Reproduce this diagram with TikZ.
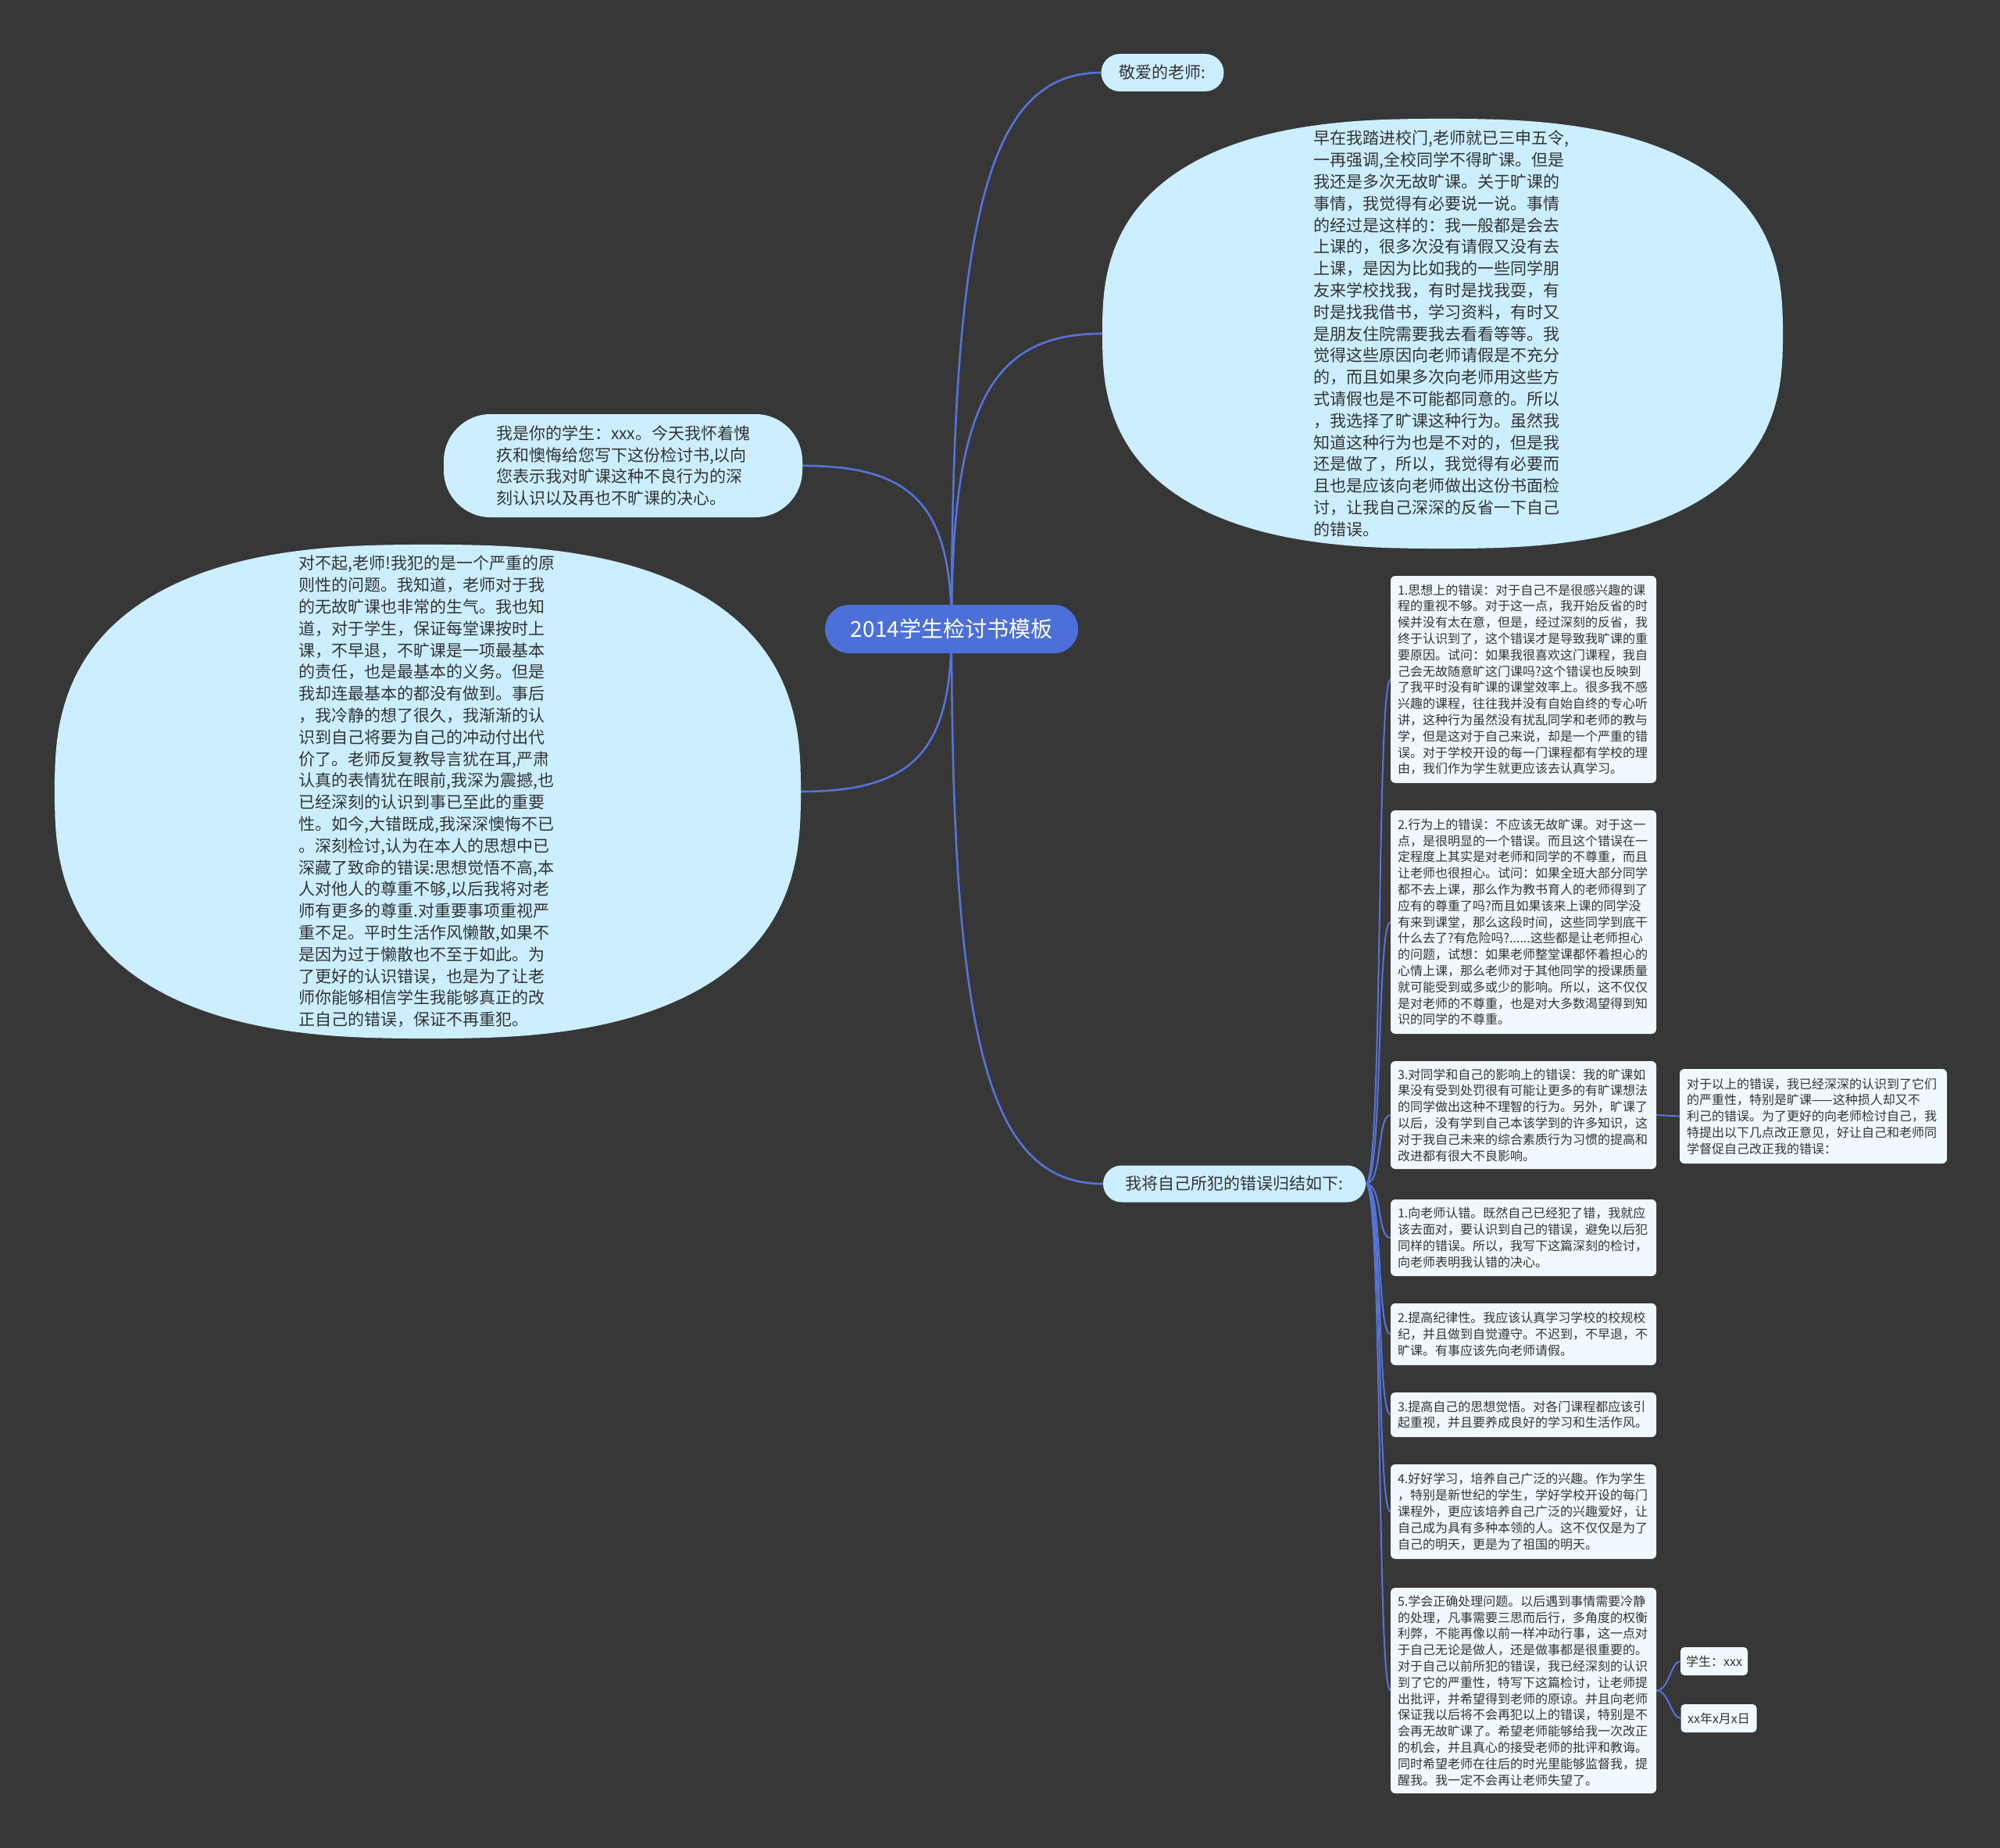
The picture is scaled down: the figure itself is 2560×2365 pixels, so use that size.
\documentclass[tikz,border=0pt]{standalone}
\usepackage{fontspec}
\setmainfont{Noto Sans CJK SC}
\usetikzlibrary{shapes.geometric,backgrounds}
\definecolor{bgc}{HTML}{383737}
\definecolor{ellc}{HTML}{CCEFFF}
\definecolor{boxc}{HTML}{F0FAFE}
\definecolor{rootc}{HTML}{4D6FD8}
\definecolor{linec}{HTML}{5673D9}
\definecolor{txtc}{HTML}{333333}
\tikzset{
  mainline/.style={draw=linec, line width=2.6pt},
  subline/.style={draw=linec, line width=2pt},
  ellshape/.style={ellipse, inner sep=0pt},
  elltext/.style={text=txtc, font=\fontsize{21}{27.8}\selectfont, align=left, text width=330pt, inner sep=0pt},
  pill/.style={fill=ellc, text=txtc, font=\fontsize{21}{24}\selectfont, inner sep=0pt},
  rootn/.style={fill=rootc, text=white, font=\fontsize{28}{32}\selectfont, rounded corners=31pt, minimum width=324pt, minimum height=62pt, inner sep=0pt},
  card/.style={fill=boxc, rounded corners=6pt, text=txtc, font=\fontsize{16}{20.8}\selectfont, align=left, text width=322pt, inner xsep=9pt, inner ysep=0pt},
  tagn/.style={fill=boxc, rounded corners=5pt, text=txtc, font=\fontsize{16}{20}\selectfont, inner sep=0pt, minimum height=36pt},
}
\begin{document}
\begin{tikzpicture}[x=1pt,y=-1pt]
\useasboundingbox (0,0) rectangle (2560,2365);

% root
\node[rootn] (root) at (1218,805) {2014学生检讨书模板};

% top label
\node[pill, minimum width=157pt, minimum height=48pt, rounded corners=24pt] (t1) at (1488,93) {敬爱的老师:};

% top-right rounded oval (anchor node; shape filled below)
\node[ellshape, minimum width=871pt, minimum height=550pt] (e1) at (1846.5,427) {};
\node[elltext] (e1t) at (e1.center) {早在我踏进校门,老师就已三申五令,\\一再强调,全校同学不得旷课。但是\\我还是多次无故旷课。关于旷课的\\事情，我觉得有必要说一说。事情\\的经过是这样的：我一般都是会去\\上课的，很多次没有请假又没有去\\上课，是因为比如我的一些同学朋\\友来学校找我，有时是找我耍，有\\时是找我借书，学习资料，有时又\\是朋友住院需要我去看看等等。我\\觉得这些原因向老师请假是不充分\\的，而且如果多次向老师用这些方\\式请假也是不可能都同意的。所以\\，我选择了旷课这种行为。虽然我\\知道这种行为也是不对的，但是我\\还是做了，所以，我觉得有必要而\\且也是应该向老师做出这份书面检\\讨，让我自己深深的反省一下自己\\的错误。};

% small upper-left
\node[fill=ellc, rounded corners=60pt, minimum width=459pt, minimum height=132pt, inner sep=0pt] (e3) at (797.5,596) {};
\node[elltext, text width=325pt] (e3t) at (e3.center) {我是你的学生：xxx。今天我怀着愧\\疚和懊悔给您写下这份检讨书,以向\\您表示我对旷课这种不良行为的深\\刻认识以及再也不旷课的决心。};

% big left oval
\node[ellshape, minimum width=955pt, minimum height=632pt] (e2) at (547.5,1013) {};
\node[elltext] (e2t) at (e2.center) {对不起,老师!我犯的是一个严重的原\\则性的问题。我知道，老师对于我\\的无故旷课也非常的生气。我也知\\道，对于学生，保证每堂课按时上\\课，不早退，不旷课是一项最基本\\的责任，也是最基本的义务。但是\\我却连最基本的都没有做到。事后\\，我冷静的想了很久，我渐渐的认\\识到自己将要为自己的冲动付出代\\价了。老师反复教导言犹在耳,严肃\\认真的表情犹在眼前,我深为震撼,也\\已经深刻的认识到事已至此的重要\\性。如今,大错既成,我深深懊悔不已\\。深刻检讨,认为在本人的思想中已\\深藏了致命的错误:思想觉悟不高,本\\人对他人的尊重不够,以后我将对老\\师有更多的尊重.对重要事项重视严\\重不足。平时生活作风懒散,如果不\\是因为过于懒散也不至于如此。为\\了更好的认识错误，也是为了让老\\师你能够相信学生我能够真正的改\\正自己的错误，保证不再重犯。};

% lower branch
\node[pill, minimum width=336pt, minimum height=47pt, rounded corners=23.5pt] (we) at (1580,1515) {我将自己所犯的错误归结如下:};

\node[card, minimum height=265pt] (bA) at (1950,869.5) {1.思想上的错误：对于自己不是很感兴趣的课\\程的重视不够。对于这一点，我开始反省的时\\候并没有太在意，但是，经过深刻的反省，我\\终于认识到了，这个错误才是导致我旷课的重\\要原因。试问：如果我很喜欢这门课程，我自\\己会无故随意旷这门课吗?这个错误也反映到\\了我平时没有旷课的课堂效率上。很多我不感\\兴趣的课程，往往我并没有自始自终的专心听\\讲，这种行为虽然没有扰乱同学和老师的教与\\学，但是这对于自己来说，却是一个严重的错\\误。对于学校开设的每一门课程都有学校的理\\由，我们作为学生就更应该去认真学习。};

\node[card, minimum height=286pt] (bB) at (1950,1180) {2.行为上的错误：不应该无故旷课。对于这一\\点，是很明显的一个错误。而且这个错误在一\\定程度上其实是对老师和同学的不尊重，而且\\让老师也很担心。试问：如果全班大部分同学\\都不去上课，那么作为教书育人的老师得到了\\应有的尊重了吗?而且如果该来上课的同学没\\有来到课堂，那么这段时间，这些同学到底干\\什么去了?有危险吗?......这些都是让老师担心\\的问题，试想：如果老师整堂课都怀着担心的\\心情上课，那么老师对于其他同学的授课质量\\就可能受到或多或少的影响。所以，这不仅仅\\是对老师的不尊重，也是对大多数渴望得到知\\识的同学的不尊重。};

\node[card, minimum height=138pt] (bC) at (1950,1427) {3.对同学和自己的影响上的错误：我的旷课如\\果没有受到处罚很有可能让更多的有旷课想法\\的同学做出这种不理智的行为。另外，旷课了\\以后，没有学到自己本该学到的许多知识，这\\对于我自己未来的综合素质行为习惯的提高和\\改进都有很大不良影响。};

\node[card, text width=324pt, minimum height=121pt] (sum) at (2321,1428.5) {对于以上的错误，我已经深深的认识到了它们\\的严重性，特别是旷课——这种损人却又不\\利己的错误。为了更好的向老师检讨自己，我\\特提出以下几点改正意见，好让自己和老师同\\学督促自己改正我的错误：};

\node[card, minimum height=98pt] (bD) at (1950,1584) {1.向老师认错。既然自己已经犯了错，我就应\\该去面对，要认识到自己的错误，避免以后犯\\同样的错误。所以，我写下这篇深刻的检讨，\\向老师表明我认错的决心。};

\node[card, minimum height=79pt] (bE) at (1950,1707.5) {2.提高纪律性。我应该认真学习学校的校规校\\纪，并且做到自觉遵守。不迟到，不早退，不\\旷课。有事应该先向老师请假。};

\node[card, minimum height=57pt] (bF) at (1950,1810.5) {3.提高自己的思想觉悟。对各门课程都应该引\\起重视，并且要养成良好的学习和生活作风。};

\node[card, minimum height=121pt] (bG) at (1950,1934.5) {4.好好学习，培养自己广泛的兴趣。作为学生\\，特别是新世纪的学生，学好学校开设的每门\\课程外，更应该培养自己广泛的兴趣爱好，让\\自己成为具有多种本领的人。这不仅仅是为了\\自己的明天，更是为了祖国的明天。};

\node[card, minimum height=263pt] (bH) at (1950,2163.5) {5.学会正确处理问题。以后遇到事情需要冷静\\的处理，凡事需要三思而后行，多角度的权衡\\利弊，不能再像以前一样冲动行事，这一点对\\于自己无论是做人，还是做事都是很重要的。\\对于自己以前所犯的错误，我已经深刻的认识\\到了它的严重性，特写下这篇检讨，让老师提\\出批评，并希望得到老师的原谅。并且向老师\\保证我以后将不会再犯以上的错误，特别是不\\会再无故旷课了。希望老师能够给我一次改正\\的机会，并且真心的接受老师的批评和教诲。\\同时希望老师在往后的时光里能够监督我，提\\醒我。我一定不会再让老师失望了。};

\node[tagn, minimum width=86pt] (ts) at (2194,2126) {学生：xxx};
\node[tagn, minimum width=97pt] (td) at (2200,2199) {xx年x月x日};

\begin{pgfonlayer}{background}
\fill[bgc] (0,0) rectangle (2560,2365);
% root connectors
\draw[mainline] (root.center) .. controls (1218,271) and (1266,93) .. (t1.west);
\draw[mainline] (root.center) .. controls (1218,521) and (1266,427) .. (e1.west);
\draw[mainline] (root.center) .. controls (1218,648) and (1170,596) .. (e3.east);
\draw[mainline] (root.center) .. controls (1218,961) and (1170,1013) .. (e2.east);
\draw[mainline] (root.center) .. controls (1218,1337) and (1266,1515) .. (we.west);
% branch connectors
\foreach \b in {bA,bB,bC,bD,bE,bF,bG,bH}{
  \draw[subline] (we.east) .. controls +(22,0) and +(-18,0) .. (\b.west);
}
\draw[subline] (bC.east) -- (sum.west);
\draw[subline] (bH.east) .. controls +(16,0) and +(-12,0) .. (ts.west);
\draw[subline] (bH.east) .. controls +(16,0) and +(-12,0) .. (td.west);
% oval shapes (superellipses)
\fill[ellc] plot[domain=1:361, samples=181] ({1846.5+435.5*sign(cos(\x))*abs(cos(\x))^0.77}, {427+275*sign(sin(\x))*abs(sin(\x))^0.77}) -- cycle;
\fill[ellc] plot[domain=1:361, samples=181] ({547.5+477.5*sign(cos(\x))*abs(cos(\x))^0.77}, {1013+316*sign(sin(\x))*abs(sin(\x))^0.77}) -- cycle;
\end{pgfonlayer}
\end{tikzpicture}
\end{document}
